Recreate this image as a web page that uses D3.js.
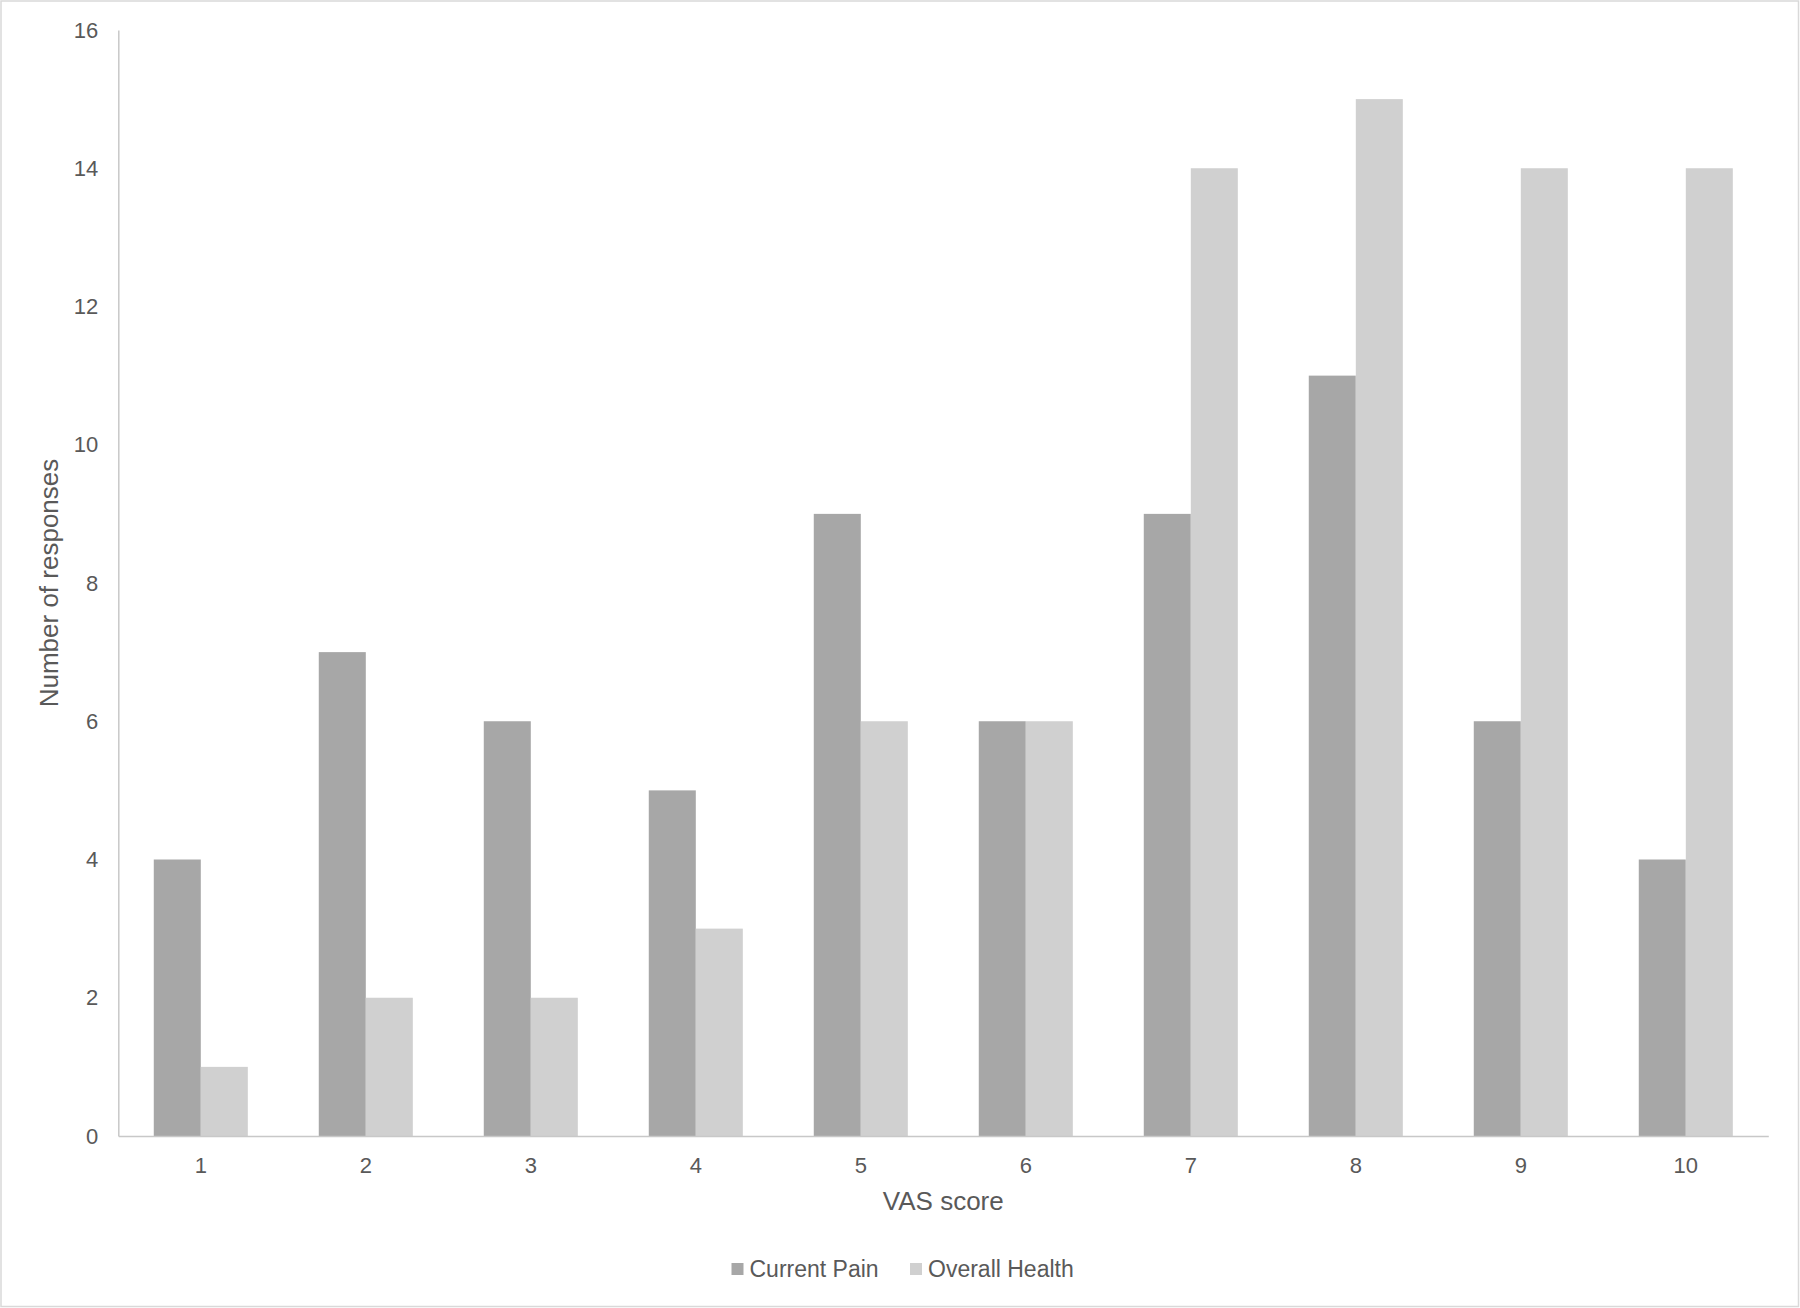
<!DOCTYPE html>
<html>
<head>
<meta charset="utf-8">
<script src="https://cdn.jsdelivr.net/npm/d3@7"></script>
<style>
  html, body { margin: 0; padding: 0; background: #fff; }
  svg { display: block; }
  text { font-family: "Liberation Sans", Arial, sans-serif; fill: #595959; }
</style>
</head>
<body>
<svg id="chart" width="1800" height="1308"></svg>
<script>
const categories = ["1", "2", "3", "4", "5", "6", "7", "8", "9", "10"];
const seriesNames = ["Current Pain", "Overall Health"];
const currentPain = [4, 7, 6, 5, 9, 6, 9, 11, 6, 4];
const overallHealth = [1, 2, 2, 3, 6, 6, 14, 15, 14, 14];
const yTicks = [0, 2, 4, 6, 8, 10, 12, 14, 16];
const colors = ["#a7a7a7", "#d0d0d0"];

const svg = d3.select("#chart");
const W = 1800, H = 1308;
const m = { left: 118.3, right: W - 1768.3, top: 30, bottom: H - 1136 };

// outer border
svg.append("rect").attr("x", 1).attr("y", 1).attr("width", W - 2.5).attr("height", H - 2.5)
  .attr("fill", "#fff").attr("stroke", "#d9d9d9").attr("stroke-width", 1.5);

const x0 = d3.scaleBand().domain(categories).range([m.left, W - m.right]).paddingInner(0.43).paddingOuter(0.215);
const x1 = d3.scaleBand().domain(seriesNames).range([0, x0.bandwidth()]);
const y = d3.scaleLinear().domain([0, 16]).range([H - m.bottom, m.top]);

const data = categories.map((c, i) => ({ cat: c, vals: [currentPain[i], overallHealth[i]] }));

const groups = svg.append("g").selectAll("g").data(data).join("g")
  .attr("transform", d => `translate(${x0(d.cat)},0)`);
groups.selectAll("rect").data(d => d.vals.map((v, k) => ({ v, k })))
  .join("rect")
  .attr("x", d => x1(seriesNames[d.k]))
  .attr("y", d => y(d.v))
  .attr("width", x1.bandwidth())
  .attr("height", d => y(0) - y(d.v))
  .attr("fill", d => colors[d.k]);

// y axis
const yAxis = d3.axisLeft(y).tickValues(yTicks).tickSize(0).tickPadding(20);
const gy = svg.append("g").attr("transform", `translate(${m.left},0)`).call(yAxis);
gy.select(".domain").attr("stroke", "#c8c8c8").attr("stroke-width", 1.5);
gy.selectAll("text").attr("font-size", 22).attr("fill", "#595959").attr("font-family", "Liberation Sans, Arial, sans-serif");

// x axis
const xAxis = d3.axisBottom(x0).tickSize(0).tickPadding(21);
const gx = svg.append("g").attr("transform", `translate(0,${H - m.bottom})`).call(xAxis);
gx.select(".domain").attr("stroke", "#c8c8c8").attr("stroke-width", 1.5);
gx.selectAll("text").attr("font-size", 22).attr("fill", "#595959").attr("font-family", "Liberation Sans, Arial, sans-serif");

// axis titles
svg.append("text").attr("x", (m.left + W - m.right) / 2).attr("y", 1210)
  .attr("text-anchor", "middle").attr("font-size", 26).text("VAS score");
svg.append("text").attr("transform", `translate(57.5,${(m.top + H - m.bottom) / 2}) rotate(-90)`)
  .attr("text-anchor", "middle").attr("font-size", 26).text("Number of responses");

// legend
const legendX = [731.5, 910];
const lg = svg.append("g").selectAll("g").data(seriesNames).join("g")
  .attr("transform", (d, i) => `translate(${legendX[i]},1263)`);
lg.append("rect").attr("width", 12).attr("height", 12).attr("fill", (d, i) => colors[i]);
lg.append("text").attr("x", 18).attr("y", 13.5).attr("font-size", 23).text(d => d);
</script>
</body>
</html>
